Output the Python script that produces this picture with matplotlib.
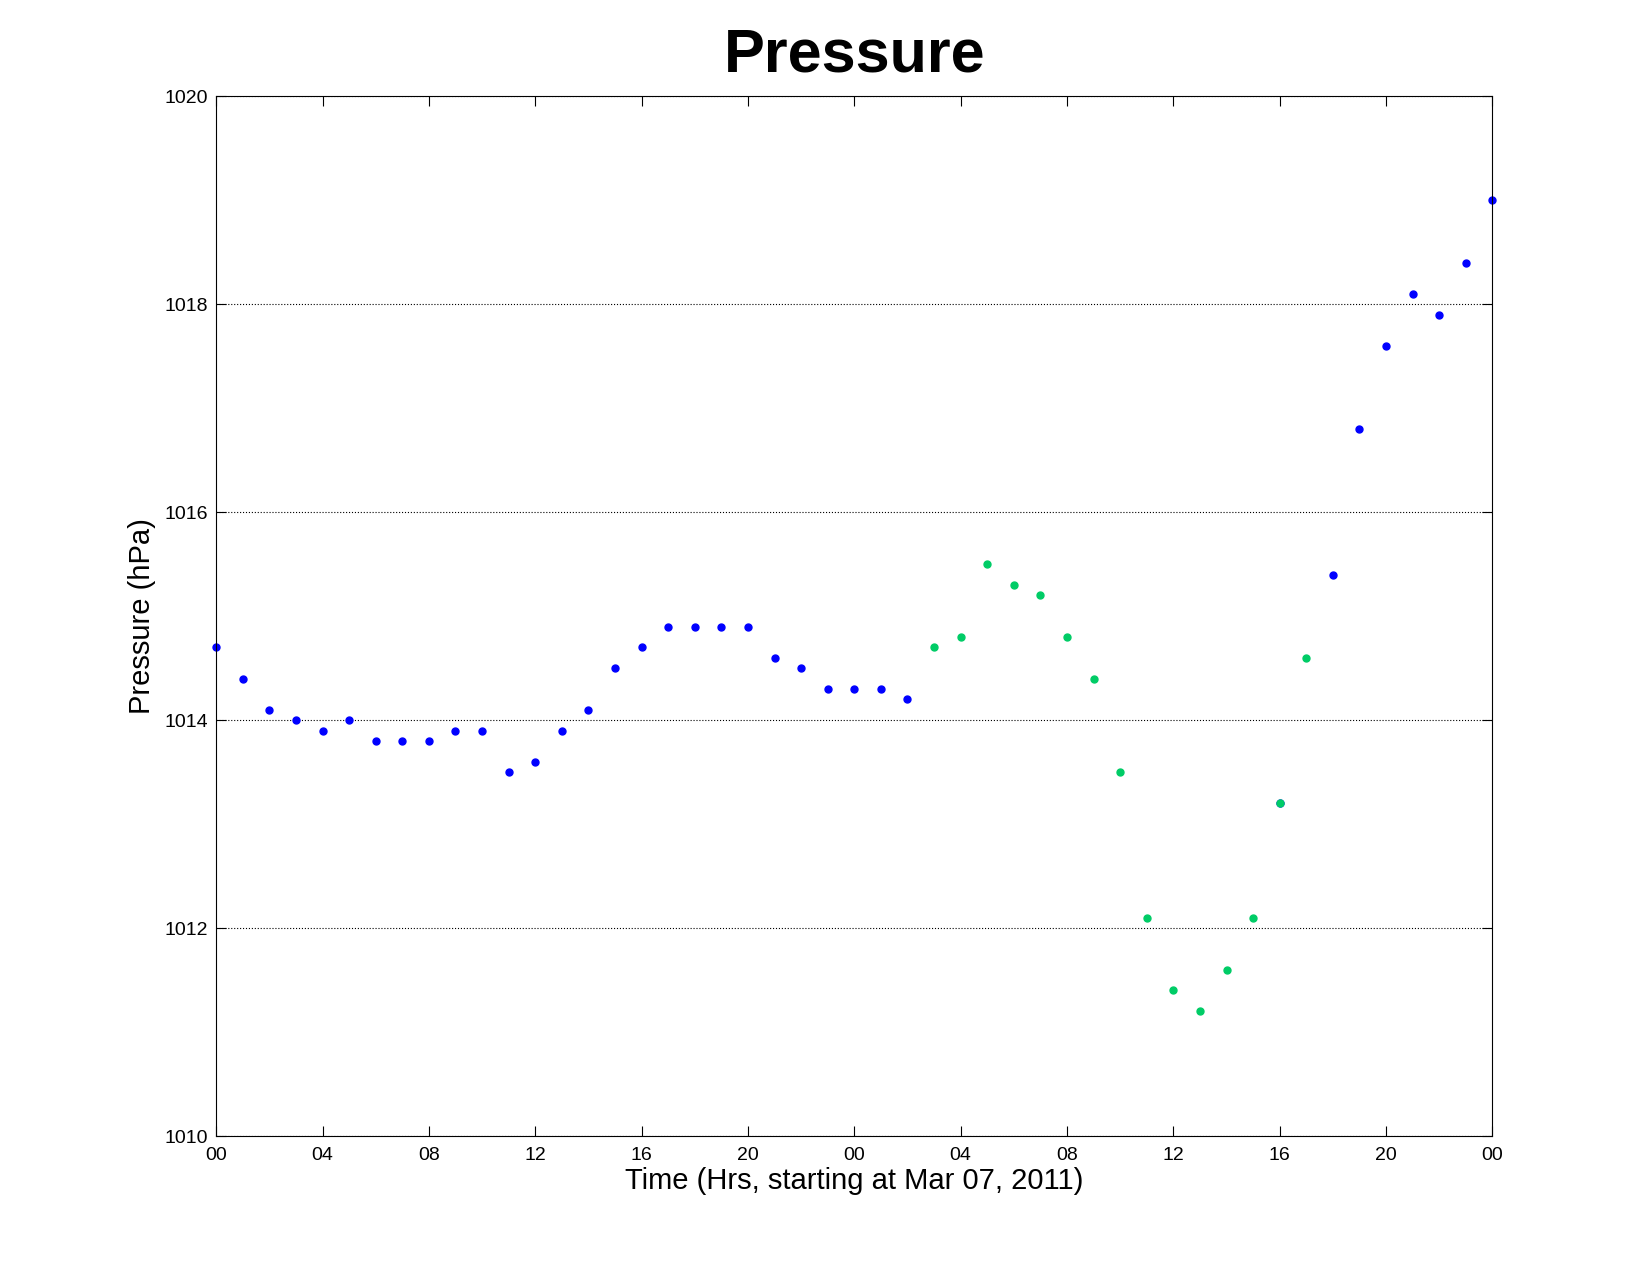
import matplotlib
matplotlib.use("Agg")
import matplotlib.pyplot as plt
import numpy as np

plt.rcParams['font.family'] = ['Liberation Sans', 'DejaVu Sans']

# hours since Mar 07, 2011 00:00
hrs_blue1 = list(range(0, 27))
p_blue1 = [1014.7, 1014.4, 1014.1, 1014.0, 1013.9, 1014.0, 1013.8, 1013.8, 1013.8,
           1013.9, 1013.9, 1013.5, 1013.6, 1013.9, 1014.1, 1014.5, 1014.7, 1014.9,
           1014.9, 1014.9, 1014.9, 1014.6, 1014.5, 1014.3, 1014.3, 1014.3, 1014.2]
hrs_green = list(range(27, 42))
p_green = [1014.7, 1014.8, 1015.5, 1015.3, 1015.2, 1014.8, 1014.4, 1013.5, 1012.1,
           1011.4, 1011.2, 1011.6, 1012.1, 1013.2, 1014.6]
hrs_blue2 = [40, 42, 43, 44, 45, 46, 47, 48]
p_blue2 = [1013.2, 1015.4, 1016.8, 1017.6, 1018.1, 1017.9, 1018.4, 1019.0]

tick_hrs = list(range(0, 49, 4))
tick_lbl = ["%02d" % (h % 24) for h in tick_hrs]

fig = plt.figure(figsize=(16.5, 12.75), dpi=100)
ax = fig.add_axes([0.131, 0.109, 0.7735, 0.8155])

ax.plot(hrs_blue1, p_blue1, 'o', color='#0000ff', ms=5, clip_on=False)
ax.plot(hrs_blue2, p_blue2, 'o', color='#0000ff', ms=5, clip_on=False)
ax.plot(hrs_green, p_green, 'o', color='#00cc66', ms=5)

ax.set_xlim(0, 48)
ax.set_ylim(1010, 1020)
ax.set_xticks(tick_hrs)
ax.set_xticklabels(tick_lbl)
ax.set_yticks(range(1010, 1021, 2))
ax.tick_params(direction='in', top=True, right=True, labelsize=14, length=7)
ax.tick_params(axis='x', pad=8)
ax.tick_params(axis='y', pad=6)
ax.yaxis.grid(True, linestyle=':', color='black', linewidth=0.8)

ax.set_title('Pressure', fontsize=44, fontweight='bold', pad=18)
ax.set_xlabel('Time (Hrs, starting at Mar 07, 2011)', fontsize=21, labelpad=2)
ax.set_ylabel('Pressure (hPa)', fontsize=21, labelpad=6)

fig.savefig('out.png')
